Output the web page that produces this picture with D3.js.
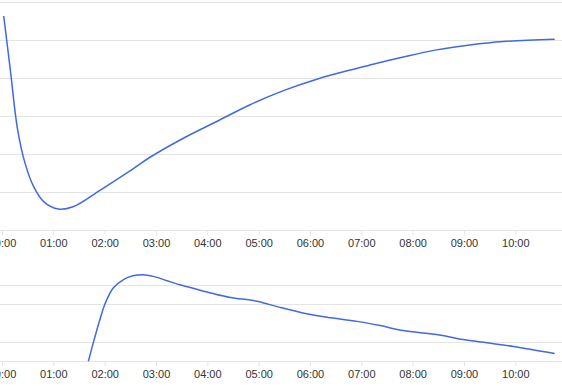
<!DOCTYPE html>
<html>
<head>
<meta charset="utf-8">
<script src="https://cdn.jsdelivr.net/npm/d3@7"></script>
<style>
  html, body { margin: 0; padding: 0; background: #fff; }
  svg { display: block; }
  .tick text { font-family: "Liberation Sans", Arial, Helvetica, sans-serif; font-size: 11px; fill: #333; }
</style>
</head>
<body>
<svg id="chart" width="562" height="386"></svg>
<script>
// Upper series: level over time
const upperTimes = ["00:02","00:10","00:18","00:27","00:37","00:49","01:06","01:23","01:55","02:34","02:53","03:32","04:11","04:50","05:29","06:08","06:47","07:10","07:49","08:28","09:07","09:46","10:46"];
const upperValues = [5.62,4.15,2.67,1.75,1.14,0.74,0.55,0.61,1.05,1.62,1.91,2.41,2.85,3.29,3.66,3.96,4.20,4.33,4.54,4.73,4.86,4.95,5.01];

// Lower series: rate over time
const lowerTimes = ["01:41","01:47","01:55","02:00","02:10","02:22","02:33","02:45","02:57","03:13","03:28","03:40","04:07","04:27","04:58","05:25","05:56","06:20","06:55","07:22","07:49","08:28","08:59","09:27","09:58","10:46"];
const lowerValues = [0,1.01,2.26,2.95,3.82,4.26,4.46,4.52,4.43,4.20,3.99,3.85,3.53,3.33,3.13,2.81,2.48,2.29,2.08,1.86,1.60,1.39,1.13,0.96,0.77,0.40];

// Grid values for each panel
const upperGrid = [0,1,2,3,4,5,6];
const lowerGrid = [0,1,3,4];
const hourTicks = ["00:00","01:00","02:00","03:00","04:00","05:00","06:00","07:00","08:00","09:00","10:00"];

const W = 562;
const parse = d3.utcParse("%H:%M");
const fmt = d3.utcFormat("%H:%M");
const svg = d3.select("#chart");

const x = d3.scaleUtc()
  .domain([parse("00:00"), parse("10:00")])
  .range([2, 515.3]);

const lineColor = "#4169e1";
const gridColor = "#e5e5e5";

function panel(times, values, grid, yDomain, yRange) {
  const y = d3.scaleLinear().domain(yDomain).range(yRange);
  const g = svg.append("g");

  // horizontal grid lines spanning the full width
  g.append("g").selectAll("line")
    .data(grid)
    .join("line")
    .attr("x1", 0).attr("x2", W)
    .attr("y1", d => Math.round(y(d)) + 0.5)
    .attr("y2", d => Math.round(y(d)) + 0.5)
    .attr("stroke", gridColor)
    .attr("stroke-width", 1);

  // time axis
  const axis = d3.axisBottom(x)
    .tickValues(hourTicks.map(parse))
    .tickFormat(fmt)
    .tickSize(5)
    .tickPadding(4);
  const ag = g.append("g")
    .attr("transform", `translate(0,${Math.round(y(0)) + 0.5})`)
    .call(axis);
  ag.select(".domain").remove();
  ag.selectAll(".tick line").attr("stroke", gridColor);

  const data = times.map((t, i) => ({ t: parse(t), v: values[i] }));
  const line = d3.line()
    .x(d => x(d.t))
    .y(d => y(d.v))
    .curve(d3.curveCatmullRom.alpha(0.5));

  g.append("path")
    .datum(data)
    .attr("fill", "none")
    .attr("stroke", lineColor)
    .attr("stroke-width", 1.5)
    .attr("d", line);
}

panel(upperTimes, upperValues, upperGrid, [0, 6], [230, 1.5]);
panel(lowerTimes, lowerValues, lowerGrid, [0, 4], [361.2, 284.6]);
</script>
</body>
</html>
